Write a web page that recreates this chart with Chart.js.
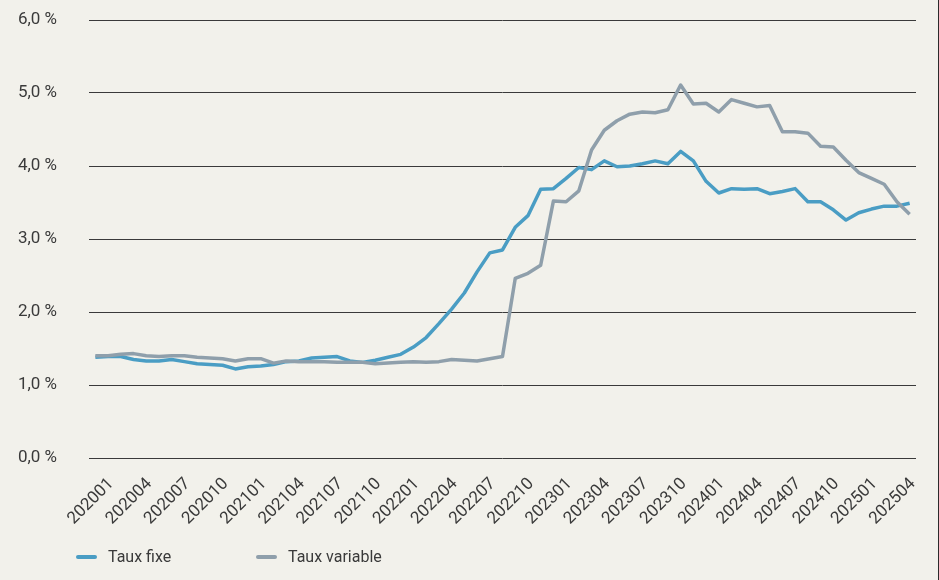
<!DOCTYPE html>
<html><head><meta charset="utf-8">
<script src="https://cdn.jsdelivr.net/npm/chart.js@4.4.1/dist/chart.umd.min.js"></script>
<style>
html,body{margin:0;padding:0;background:#f2f1eb;overflow:hidden}
#wrap{width:938px;height:580px;border-right:1px solid #2b2b2b;position:relative}
canvas{display:block}
</style></head><body>
<div id="wrap"><canvas id="c" width="938" height="580"></canvas></div>
<script>
const months = [
 '202001','202002','202003','202004','202005','202006','202007','202008','202009','202010','202011','202012',
 '202101','202102','202103','202104','202105','202106','202107','202108','202109','202110','202111','202112',
 '202201','202202','202203','202204','202205','202206','202207','202208','202209','202210','202211','202212',
 '202301','202302','202303','202304','202305','202306','202307','202308','202309','202310','202311','202312',
 '202401','202402','202403','202404','202405','202406','202407','202408','202409','202410','202411','202412',
 '202501','202502','202503','202504','202505'
];
const tickLabels = [
 '202001','202004','202007','202010','202101','202104','202107','202110','202201','202204','202207','202210',
 '202301','202304','202307','202310','202401','202404','202407','202410','202501','202504'
];
const yTicks = [0,1,2,3,4,5,6];
const tauxFixe = [
 1.38,1.39,1.39,1.35,1.33,1.33,1.35,1.32,1.29,1.28,1.27,1.22,
 1.25,1.26,1.28,1.32,1.33,1.37,1.38,1.39,1.33,1.31,1.34,1.38,
 1.42,1.52,1.65,1.84,2.04,2.26,2.55,2.81,2.85,3.16,3.32,3.68,
 3.69,3.83,3.98,3.95,4.07,3.99,4.00,4.03,4.07,4.03,4.20,4.07,
 3.79,3.63,3.69,3.68,3.69,3.62,3.65,3.69,3.51,3.51,3.40,3.26,
 3.36,3.41,3.45,3.45,3.49
];
const tauxVariable = [
 1.40,1.40,1.42,1.43,1.40,1.39,1.40,1.40,1.38,1.37,1.36,1.33,
 1.36,1.36,1.30,1.33,1.32,1.32,1.32,1.31,1.31,1.31,1.29,1.30,
 1.31,1.32,1.31,1.32,1.35,1.34,1.33,1.36,1.39,2.46,2.53,2.64,
 3.52,3.51,3.66,4.22,4.49,4.62,4.71,4.74,4.73,4.77,5.11,4.85,
 4.86,4.74,4.91,4.86,4.81,4.83,4.47,4.47,4.45,4.27,4.26,4.08,
 3.91,3.83,3.75,3.51,3.34
];
const seriesNames = ['Taux fixe','Taux variable'];
const seriesColors = ['#4a9dc4','#8f9fab'];

Chart.defaults.font.family = 'Roboto';
Chart.defaults.color = '#3a3a3a';

const legendPlugin = {
  id: 'customLegend',
  afterDraw(chart, args, opts) {
    const ctx = chart.ctx;
    ctx.save();
    chart.data.datasets.forEach((ds, i) => {
      const x = opts.xs[i];
      const y = opts.y;
      ctx.strokeStyle = ds.borderColor;
      ctx.lineWidth = 4;
      ctx.lineCap = 'round';
      ctx.beginPath();
      ctx.moveTo(x + 2, y);
      ctx.lineTo(x + 19, y);
      ctx.stroke();
      ctx.fillStyle = '#3a3a3a';
      ctx.font = '16px Roboto';
      ctx.textBaseline = 'middle';
      ctx.textAlign = 'left';
      ctx.fillText(ds.label, x + opts.gap, y + 1);
    });
    ctx.restore();
  }
};

new Chart(document.getElementById('c'), {
  type: 'line',
  data: {
    labels: months,
    datasets: [
      {label: seriesNames[0], data: tauxFixe, borderColor: seriesColors[0], borderWidth: 3.5, pointRadius: 0, tension: 0, order: 1, borderJoinStyle: 'round'},
      {label: seriesNames[1], data: tauxVariable, borderColor: seriesColors[1], borderWidth: 3.5, pointRadius: 0, tension: 0, order: 0, borderJoinStyle: 'round'}
    ]
  },
  options: {
    responsive: false,
    animation: false,
    layout: {padding: {top: 20, right: 22, left: 0, bottom: 0}},
    plugins: {
      legend: {display: false},
      tooltip: {enabled: false},
      customLegend: {xs: [76, 256], y: 557, gap: 32}
    },
    scales: {
      x: {
        offset: true,
        grid: {display: false, drawTicks: false},
        border: {display: false},
        ticks: {
          autoSkip: false, minRotation: 45, maxRotation: 45,
          padding: 16, labelOffset: 16,
          font: {size: 17}, color: '#3a3a3a',
          callback: function(v, i) { const l = months[i]; return tickLabels.includes(l) ? l : ''; }
        },
        afterFit: (a) => { a.height = 122; a.paddingLeft = 0; a.paddingRight = 0; a.paddingTop = 0; a.paddingBottom = 0; }
      },
      y: {
        min: 0, max: 6,
        afterBuildTicks: (a) => { a.ticks = yTicks.map(v => ({value: v})); },
        grid: {color: '#3a3a3a', lineWidth: 1, drawTicks: false},
        border: {display: false},
        ticks: {
          padding: 32, font: {size: 17}, color: '#3a3a3a',
          callback: (v) => v.toFixed(1).replace('.', ',') + ' %'
        },
        afterFit: (a) => { a.width = 89; a.paddingTop = 0; a.paddingBottom = 0; a.paddingLeft = 0; a.paddingRight = 0; }
      }
    }
  },
  plugins: [legendPlugin]
});
</script>
</body></html>
